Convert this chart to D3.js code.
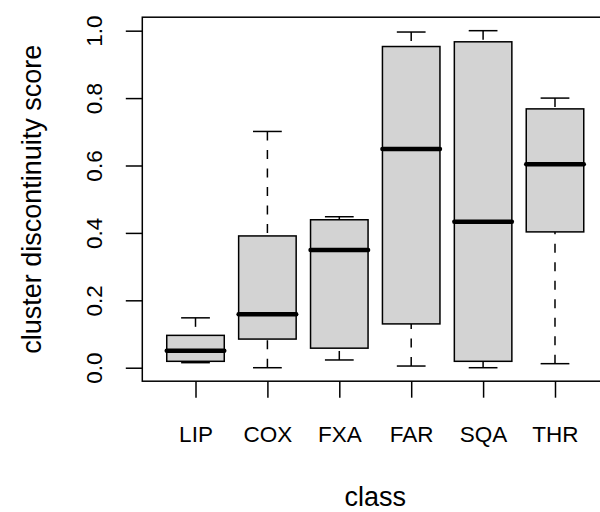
<!DOCTYPE html>
<html>
<head>
<meta charset="utf-8">
<script src="https://cdn.jsdelivr.net/npm/d3@7/dist/d3.min.js"></script>
<style>
  html, body { margin: 0; padding: 0; background: #ffffff; }
  svg { display: block; }
  text { font-family: "Liberation Sans", Arial, sans-serif; fill: #000; }
</style>
</head>
<body>
<div id="chart"></div>
<script>
// ---- data ----
const categories   = ["LIP", "COX", "FXA", "FAR", "SQA", "THR"];
const lowerWhisker = [0.015, 0.000, 0.023, 0.005, 0.000, 0.012];
const lowerQuart   = [0.019, 0.085, 0.058, 0.130, 0.019, 0.403];
const medians      = [0.050, 0.159, 0.349, 0.649, 0.433, 0.604];
const upperQuart   = [0.096, 0.391, 0.439, 0.953, 0.967, 0.768];
const upperWhisker = [0.148, 0.701, 0.448, 0.996, 1.000, 0.800];
const yTicks       = [0, 0.2, 0.4, 0.6, 0.8, 1.0];
const xTitle = "class";
const yTitle = "cluster discontinuity score";

const W = 600, H = 512;
const mLeft = 142.3, mTop = 17.2, mBottom = 381.2, mRight = 608.2;

const svg = d3.select("#chart").append("svg")
  .attr("width", W).attr("height", H);
svg.append("rect").attr("width", W).attr("height", H).attr("fill", "#fff");

const x = d3.scaleLinear().domain([0.26, categories.length + 0.74]).range([mLeft, mRight]);
const y = d3.scaleLinear().domain([-0.04, 1.04]).range([mBottom, mTop]);

const boxes = categories.map((c, i) => ({
  name: c, pos: i + 1,
  lo: lowerWhisker[i], q1: lowerQuart[i], med: medians[i],
  q3: upperQuart[i], hi: upperWhisker[i]
}));

const half = 0.4, staple = 0.2;
const g = svg.append("g");

// whiskers (dashed), drawn from whisker end toward the box
const dash = "9,9.5";
g.selectAll(".wlo").data(boxes).join("line")
  .attr("x1", d => x(d.pos)).attr("x2", d => x(d.pos))
  .attr("y1", d => y(d.lo)).attr("y2", d => y(d.q1))
  .attr("stroke", "#000").attr("stroke-width", 1.5).attr("stroke-dasharray", dash);
g.selectAll(".whi").data(boxes).join("line")
  .attr("x1", d => x(d.pos)).attr("x2", d => x(d.pos))
  .attr("y1", d => y(d.hi)).attr("y2", d => y(d.q3))
  .attr("stroke", "#000").attr("stroke-width", 1.5).attr("stroke-dasharray", dash);

// staples
["lo", "hi"].forEach(k => {
  g.selectAll(".st" + k).data(boxes).join("line")
    .attr("x1", d => x(d.pos - staple)).attr("x2", d => x(d.pos + staple))
    .attr("y1", d => y(d[k])).attr("y2", d => y(d[k]))
    .attr("stroke", "#000").attr("stroke-width", 1.5);
});

// boxes
g.selectAll(".box").data(boxes).join("rect")
  .attr("x", d => x(d.pos - half))
  .attr("width", d => x(d.pos + half) - x(d.pos - half))
  .attr("y", d => y(d.q3))
  .attr("height", d => y(d.q1) - y(d.q3))
  .attr("fill", "#d3d3d3").attr("stroke", "#000").attr("stroke-width", 1.5);

// medians
g.selectAll(".med").data(boxes).join("line")
  .attr("x1", d => x(d.pos - half)).attr("x2", d => x(d.pos + half))
  .attr("y1", d => y(d.med)).attr("y2", d => y(d.med))
  .attr("stroke", "#000").attr("stroke-width", 4.5).attr("stroke-linecap", "round");

// frame
svg.append("rect")
  .attr("x", mLeft).attr("y", mTop)
  .attr("width", mRight - mLeft).attr("height", mBottom - mTop)
  .attr("fill", "none").attr("stroke", "#000").attr("stroke-width", 1.5);

// x axis
const xAxis = svg.append("g").attr("transform", `translate(0,${mBottom})`)
  .call(d3.axisBottom(x).tickValues(boxes.map(d => d.pos))
    .tickFormat(p => categories[p - 1]).tickSize(16.5).tickSizeOuter(0));
xAxis.select(".domain").remove();
xAxis.selectAll(".tick line").attr("stroke", "#000").attr("stroke-width", 1.5);
xAxis.selectAll(".tick text").attr("y", 61).attr("dy", null)
  .style("font-size", "22.5px").style("font-family", "'Liberation Sans', Arial, sans-serif");

// y axis
const yAxis = svg.append("g").attr("transform", `translate(${mLeft},0)`)
  .call(d3.axisLeft(y).tickValues(yTicks).tickFormat(d3.format(".1f"))
    .tickSize(16.5).tickSizeOuter(0));
yAxis.select(".domain").remove();
yAxis.selectAll(".tick line").attr("stroke", "#000").attr("stroke-width", 1.5);
yAxis.selectAll(".tick text")
  .attr("transform", "rotate(-90)")
  .attr("x", 0).attr("y", -40.5).attr("dy", null)
  .attr("text-anchor", "middle")
  .style("font-size", "22.5px").style("font-family", "'Liberation Sans', Arial, sans-serif");

// axis titles
svg.append("text")
  .attr("x", (mLeft + mRight) / 2).attr("y", 506)
  .attr("text-anchor", "middle")
  .style("font-size", "27px")
  .text(xTitle);
svg.append("text")
  .attr("transform", `translate(41,${(mTop + mBottom) / 2}) rotate(-90)`)
  .attr("text-anchor", "middle")
  .style("font-size", "27px")
  .text(yTitle);
</script>
</body>
</html>
